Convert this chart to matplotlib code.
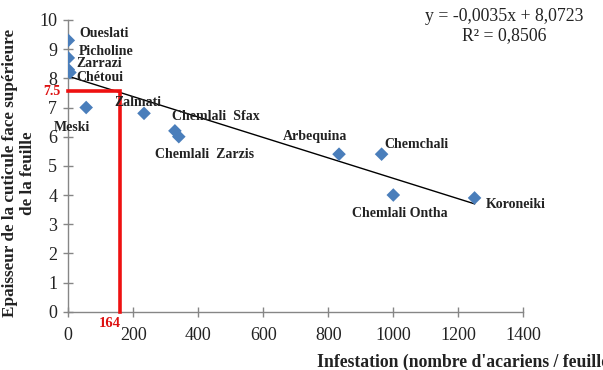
import matplotlib
matplotlib.use("Agg")
import matplotlib.pyplot as plt
import numpy as np

varieties = ["Oueslati", "Picholine", "Zarrazi", "Chétoui", "Meski", "Zalmati",
             "Chemlali  Sfax", "Chemlali  Zarzis", "Arbequina", "Chemchali",
             "Chemlali Ontha", "Koroneiki"]
infestation = [0, 0, 0, 5, 55, 233, 328, 340, 833, 964, 1000, 1250]
thickness = [9.3, 8.7, 8.3, 8.2, 7.0, 6.8, 6.2, 6.0, 5.4, 5.4, 4.0, 3.9]

slope, intercept = -0.0035, 8.0723
mark_x, mark_y = 158, 7.55
mark_x_label, mark_y_label = "164", "7.5"

# label offsets (points) and horizontal alignment
label_pos = {
    "Oueslati": ((7.7, 4.8), "left"),
    "Picholine": ((7.7, 4.5), "left"),
    "Zarrazi": ((5.5, 4.3), "left"),
    "Chétoui": ((4.3, -3.8), "left"),
    "Meski": ((-10.4, -14.6), "center"),
    "Zalmati": ((-4.3, 7.9), "center"),
    "Chemlali  Sfax": ((-2, 10), "left"),
    "Chemlali  Zarzis": ((-17, -12.5), "left"),
    "Arbequina": ((-17.6, 12.4), "center"),
    "Chemchali": ((1.7, 6.7), "left"),
    "Chemlali Ontha": ((4.5, -13), "center"),
    "Koroneiki": ((8, -4.8), "left"),
}

plt.rcParams['font.family'] = ['Liberation Serif', 'DejaVu Serif']

fig = plt.figure(figsize=(6.03, 3.70), dpi=100)
ax = fig.add_axes([68.3/603, 1-311.7/370, 455/603, 291.7/370])

grey = '#868686'
ax.set_xlim(0, 1400)
ax.set_ylim(0, 10)
ax.set_xticks(np.arange(0, 1401, 200))
ax.set_yticks(np.arange(0, 11, 1))
for s in ['top', 'right']:
    ax.spines[s].set_visible(False)
for s in ['left', 'bottom']:
    ax.spines[s].set_color(grey)
    ax.spines[s].set_linewidth(1.0)
ax.tick_params(axis='both', direction='inout', length=7, width=1, color=grey,
               labelsize=13, labelcolor='#222222', pad=4.5)
ax.tick_params(axis='x', pad=7.5)

# trend line
xl = np.array([0, max(infestation)])
ax.plot(xl, slope*xl + intercept, color='black', lw=1.0, zorder=2)

# red lines
ax.plot([0, mark_x, mark_x], [mark_y, mark_y, 0], color='#ee1111', lw=2.6,
        solid_joinstyle='miter', zorder=3, clip_on=False)
ax.annotate(mark_y_label, (0, mark_y), xytext=(-5.8, 0), textcoords='offset points',
            ha='right', va='center', color='#dd1111', fontsize=10, fontweight='bold',
            annotation_clip=False)
ax.annotate(mark_x_label, (mark_x, 0), xytext=(1, -8.5), textcoords='offset points',
            ha='right', va='center', color='#dd1111', fontsize=10.5, fontweight='bold',
            annotation_clip=False)

ax.scatter(infestation, thickness, marker='D', s=48, color='#4a7ebb', zorder=4,
           edgecolors='none')

for name, x, y in zip(varieties, infestation, thickness):
    off, ha = label_pos[name]
    ax.annotate(name, (x, y), xytext=off, textcoords='offset points', ha=ha,
                va='center', fontsize=10, fontweight='bold', color='#222222', zorder=5)

fig.text(504/603, 1-26/370, "y = -0,0035x + 8,0723\nR² = 0,8506", ha='center',
         va='center', multialignment='center', fontsize=12.8, color='#222222')

fig.text(19/603, 1-173/370, "Epaisseur de la cuticule face supérieure\nde la feuille",
         rotation=90, ha='center', va='center', multialignment='center',
         fontsize=12.3, fontweight='bold', color='#222222', linespacing=1.15)
fig.text(317/603, 1-362/370, "Infestation (nombre d'acariens / feuille)",
         ha='left', va='center', fontsize=12.7, fontweight='bold', color='#222222')

fig.savefig("out.png", dpi=100)
